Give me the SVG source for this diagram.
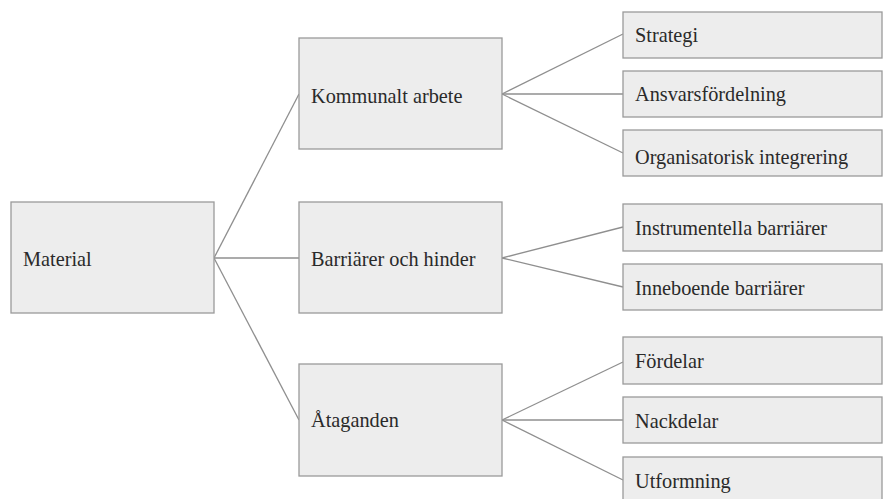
<svg xmlns="http://www.w3.org/2000/svg" width="885" height="499" viewBox="0 0 885 499">
<style>
.box{fill:#ededed;stroke:#9a9a9a;stroke-width:1.3}
.lbl{font-family:"Liberation Serif",serif;font-size:20.3px;fill:#2a2a2a}
.con line{stroke:#8f8f8f;stroke-width:1.3}
</style>
<rect width="885" height="499" fill="#fff"/>
<g class="con" id="connectors">
<line x1="214" y1="258" x2="299" y2="94"/>
<line x1="214" y1="258" x2="299" y2="258"/>
<line x1="214" y1="258" x2="299" y2="420"/>
<line x1="502" y1="94" x2="623" y2="34"/>
<line x1="502" y1="94" x2="623" y2="94"/>
<line x1="502" y1="94" x2="623" y2="153"/>
<line x1="502" y1="258" x2="623" y2="227"/>
<line x1="502" y1="258" x2="623" y2="287"/>
<line x1="502" y1="420" x2="623" y2="362"/>
<line x1="502" y1="420" x2="623" y2="420"/>
<line x1="502" y1="420" x2="623" y2="480"/>
</g>
<g id="material"><rect class="box" x="11" y="202" width="203" height="111"/><text class="lbl" x="23" y="266">Material</text></g>
<g id="kommunalt"><rect class="box" x="299" y="38" width="203" height="111"/><text class="lbl" x="311" y="103">Kommunalt arbete</text></g>
<g id="barriarer"><rect class="box" x="299" y="202" width="203" height="111"/><text class="lbl" x="311" y="266">Barriärer och hinder</text></g>
<g id="ataganden"><rect class="box" x="299" y="364" width="203" height="112"/><text class="lbl" x="311" y="427">Åtaganden</text></g>
<g id="strategi"><rect class="box" x="623" y="12" width="259" height="46"/><text class="lbl" x="635" y="42">Strategi</text></g>
<g id="ansvar"><rect class="box" x="623" y="71" width="259" height="46"/><text class="lbl" x="635" y="101">Ansvarsfördelning</text></g>
<g id="organisatorisk"><rect class="box" x="623" y="130" width="259" height="46"/><text class="lbl" x="635" y="164">Organisatorisk integrering</text></g>
<g id="instrumentella"><rect class="box" x="623" y="204" width="259" height="47"/><text class="lbl" x="635" y="235">Instrumentella barriärer</text></g>
<g id="inneboende"><rect class="box" x="623" y="264" width="259" height="46"/><text class="lbl" x="635" y="295">Inneboende barriärer</text></g>
<g id="fordelar"><rect class="box" x="623" y="337" width="259" height="47"/><text class="lbl" x="635" y="368">Fördelar</text></g>
<g id="nackdelar"><rect class="box" x="623" y="397" width="259" height="46"/><text class="lbl" x="635" y="428">Nackdelar</text></g>
<g id="utformning"><rect class="box" x="623" y="457" width="259" height="46"/><text class="lbl" x="635" y="488">Utformning</text></g>
</svg>
